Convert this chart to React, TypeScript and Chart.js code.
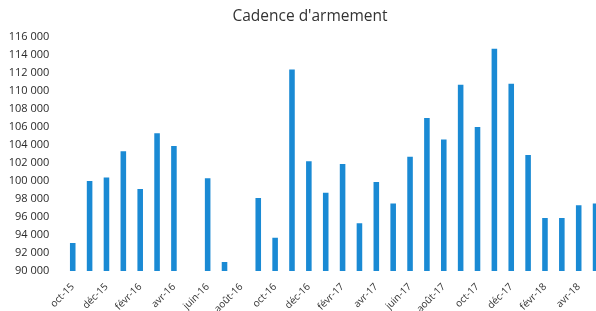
import React, { useEffect, useRef } from "react";
import { Chart, registerables } from "chart.js";

Chart.register(...registerables);

const title = "Cadence d'armement";

const categories = [
  "oct-15", "nov-15", "déc-15", "janv-16", "févr-16", "mars-16", "avr-16", "mai-16",
  "juin-16", "juil-16", "août-16", "sept-16", "oct-16", "nov-16", "déc-16", "janv-17",
  "févr-17", "mars-17", "avr-17", "mai-17", "juin-17", "juil-17", "août-17", "sept-17",
  "oct-17", "nov-17", "déc-17", "janv-18", "févr-18", "mars-18", "avr-18", "mai-18",
];

const values: (number | null)[] = [
  93100, 100000, 100400, 103300, 99100, 105300, 103900, null,
  100300, 91000, null, 98100, 93700, 112400, 102200, 98700,
  101900, 95300, 99900, 97500, 102700, 107000, 104600, 110700,
  106000, 114700, 110800, 102900, 95900, 95900, 97300, 97500,
];

const yMin = 90000;
const yMax = 116000;
const yStep = 2000;

const fmt = (v: number) => {
  const s = Math.round(v).toString();
  return s.replace(/\B(?=(\d{3})+(?!\d))/g, " ");
};

const titlePlugin = {
  id: "customTitle",
  afterDraw(chart: any) {
    const ctx = chart.ctx;
    ctx.save();
    ctx.font = "15.5px 'Open Sans', sans-serif";
    ctx.fillStyle = "#333333";
    ctx.textAlign = "center";
    ctx.textBaseline = "middle";
    ctx.fillText(title, 310, 17);
    ctx.restore();
  },
};

export default function App() {
  const ref = useRef<HTMLCanvasElement | null>(null);

  useEffect(() => {
    if (!ref.current) return;
    const chart = new Chart(ref.current, {
      type: "bar",
      data: {
        labels: categories,
        datasets: [
          {
            data: values,
            backgroundColor: "#1a8ad4",
            borderWidth: 0,
            base: yMin,
            barPercentage: 0.33,
            categoryPercentage: 1,
          } as any,
        ],
      },
      options: {
        animation: false,
        responsive: false,
        devicePixelRatio: 1,
        layout: { padding: { left: 0, right: 2, top: 37, bottom: 0 } },
        plugins: {
          legend: { display: false },
          tooltip: { enabled: false },
          title: { display: false },
        },
        scales: {
          x: {
            grid: { display: false, drawTicks: false },
            border: { display: false },
            ticks: {
              autoSkip: false,
              minRotation: 45,
              maxRotation: 45,
              padding: 10,
              color: "#333333",
              font: { family: "'Open Sans', sans-serif", size: 10 },
              callback: (_v: any, i: number) => (i % 2 === 0 ? categories[i] : ""),
            },
            afterFit: (scale: any) => {
              scale.height = 40;
              scale.paddingLeft = 0;
              scale.paddingRight = 0;
            },
          },
          y: {
            min: yMin,
            max: yMax,
            grid: { display: false, drawTicks: false },
            border: { display: false },
            ticks: {
              stepSize: yStep,
              padding: 15,
              color: "#2a2a2a",
              font: { family: "'Open Sans', sans-serif", size: 11 },
              callback: (v: any) => fmt(Number(v)),
            },
            afterFit: (scale: any) => {
              scale.width = 64.3;
            },
          },
        },
      },
      plugins: [titlePlugin],
    });
    return () => chart.destroy();
  }, []);

  return (
    <div
      style={{
        position: "fixed",
        left: 0,
        top: 0,
        width: 596,
        height: 311,
        overflow: "hidden",
        background: "#ffffff",
      }}
    >
      <canvas ref={ref} width={606} height={311} style={{ display: "block" }} />
    </div>
  );
}
